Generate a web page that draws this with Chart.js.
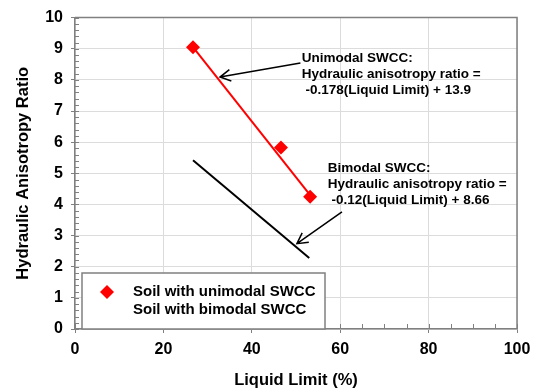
<!DOCTYPE html>
<html><head><meta charset="utf-8">
<script src="https://cdn.jsdelivr.net/npm/chart.js@4/dist/chart.umd.min.js"></script>
<style>html,body{margin:0;padding:0;background:#fff}</style>
</head><body>
<canvas id="c" width="538" height="391" style="width:538px;height:391px;display:block"></canvas>
<script>
// ---- data ----
const xTickStep = 20;
const yTickStep = 1;
const unimodalLL = [26.7, 46.6, 53.2];
const unimodalRatio = [9.05, 5.83, 4.25];
const unimodalFitLL = [26.7, 53.2];
const unimodalFitRatio = [9.05, 4.3];
const bimodalFitLL = [26.7, 53.0];
const bimodalFitRatio = [5.42, 2.28];
const legendLabels = ["Soil with unimodal SWCC", "Soil with bimodal SWCC"];
const unimodalNote = ["Unimodal SWCC:", "Hydraulic anisotropy ratio =", " -0.178(Liquid Limit) + 13.9"];
const bimodalNote = ["Bimodal SWCC:", "Hydraulic anisotropy ratio =", " -0.12(Liquid Limit) + 8.66"];
// arrow anchor points (data coordinates)
const unimodalArrow = {from: [51.0, 8.54], to: [32.8, 8.09]};
const bimodalArrow = {from: [60.4, 3.76], to: [50.2, 2.74]};
const unimodalNoteAt = [51.3, 8.7];
const bimodalNoteAt = [57.2, 5.15];

const pts = (xs, ys) => xs.map((x, i) => ({x, y: ys[i]}));
const FONT = 'Arial, "Liberation Sans", sans-serif';
const GRAY = '#808080';

const extras = {
  id: 'extras',
  afterDraw(chart) {
    const {ctx, chartArea: a, scales: {x, y}} = chart;
    ctx.save();
    // top & right border
    ctx.strokeStyle = GRAY; ctx.lineWidth = 1.5;
    ctx.beginPath();
    ctx.moveTo(a.left, a.top); ctx.lineTo(a.right, a.top); ctx.lineTo(a.right, a.bottom);
    ctx.stroke();
    // minor ticks
    ctx.lineWidth = 1;
    ctx.beginPath();
    for (let v = 0; v <= 10.001; v += 0.2) {
      const py = Math.round(y.getPixelForValue(v)) + 0.5;
      ctx.moveTo(a.left, py); ctx.lineTo(a.left + 4, py);
    }
    for (let v = 0; v <= 100.001; v += 5) {
      const px = Math.round(x.getPixelForValue(v)) + 0.5;
      ctx.moveTo(px, a.bottom); ctx.lineTo(px, a.bottom - 5);
    }
    ctx.stroke();

    // annotations
    ctx.fillStyle = '#000'; ctx.strokeStyle = '#000';
    ctx.font = 'bold 13.5px ' + FONT;
    ctx.textBaseline = 'middle'; ctx.textAlign = 'left';
    const drawNote = (lines, at) => {
      const px = x.getPixelForValue(at[0]), py = y.getPixelForValue(at[1]);
      lines.forEach((t, i) => ctx.fillText(t, px, py + i * 16));
    };
    drawNote(unimodalNote, unimodalNoteAt);
    drawNote(bimodalNote, bimodalNoteAt);
    const drawArrow = (ar) => {
      const x1 = x.getPixelForValue(ar.from[0]), y1 = y.getPixelForValue(ar.from[1]);
      const x2 = x.getPixelForValue(ar.to[0]), y2 = y.getPixelForValue(ar.to[1]);
      const ang = Math.atan2(y2 - y1, x2 - x1);
      ctx.lineWidth = 1.5;
      ctx.beginPath();
      ctx.moveTo(x1, y1); ctx.lineTo(x2, y2);
      const L = 12, w = 0.5;
      ctx.moveTo(x2 - L * Math.cos(ang - w), y2 - L * Math.sin(ang - w));
      ctx.lineTo(x2, y2);
      ctx.lineTo(x2 - L * Math.cos(ang + w), y2 - L * Math.sin(ang + w));
      ctx.stroke();
    };
    drawArrow(unimodalArrow);
    drawArrow(bimodalArrow);

    // legend box
    const bx = a.left + 7, by = a.bottom - 56, bw = 243, bh = 56;
    ctx.fillStyle = '#fff';
    ctx.fillRect(bx, by, bw, bh);
    ctx.strokeStyle = GRAY; ctx.lineWidth = 1.5;
    ctx.strokeRect(bx, by, bw, bh);
    // marker
    const mx = bx + 25, my = by + 19, r = 7;
    ctx.fillStyle = '#ff0000';
    ctx.beginPath();
    ctx.moveTo(mx, my - r); ctx.lineTo(mx + r, my); ctx.lineTo(mx, my + r); ctx.lineTo(mx - r, my);
    ctx.closePath(); ctx.fill();
    ctx.fillStyle = '#000';
    ctx.font = 'bold 15px ' + FONT;
    legendLabels.forEach((t, i) => ctx.fillText(t, bx + 51, my + i * 18));
    ctx.restore();
  }
};

new Chart(document.getElementById('c'), {
  type: 'scatter',
  data: {
    datasets: [
      {label: 'uni fit', data: pts(unimodalFitLL, unimodalFitRatio), showLine: true,
       borderColor: '#ff0000', borderWidth: 2, pointRadius: 0, order: 2},
      {label: 'bi fit', data: pts(bimodalFitLL, bimodalFitRatio), showLine: true,
       borderColor: '#000', borderWidth: 2, pointRadius: 0, order: 2},
      {label: legendLabels[0], data: pts(unimodalLL, unimodalRatio), showLine: false,
       pointStyle: 'rectRot', pointRadius: 7, backgroundColor: '#ff0000', borderColor: '#ff0000',
       borderWidth: 0, order: 1}
    ]
  },
  options: {
    responsive: false, animation: false, devicePixelRatio: 1,
    layout: {padding: {top: 15, right: 21, left: 0, bottom: 0}},
    plugins: {legend: {display: false}, tooltip: {enabled: false}},
    scales: {
      x: {
        type: 'linear', min: 0, max: 100,
        ticks: {stepSize: xTickStep, color: '#000', font: {family: FONT, size: 16, weight: 'bold'}, padding: 7, maxRotation: 0},
        grid: {color: '#dcdcdc', tickColor: GRAY, tickLength: 4, lineWidth: 1},
        border: {color: GRAY, width: 1.5},
        title: {display: true, text: 'Liquid Limit (%)', color: '#000', font: {family: FONT, size: 16.5, weight: 'bold'}, padding: {top: 0, bottom: 1}},
        afterFit: s => { s.height = 62; }
      },
      y: {
        type: 'linear', min: 0, max: 10,
        ticks: {stepSize: yTickStep, color: '#000', font: {family: FONT, size: 16, weight: 'bold'}, padding: 8},
        grid: {color: '#dcdcdc', tickColor: GRAY, tickLength: 4, lineWidth: 1},
        border: {color: GRAY, width: 1.5},
        title: {display: true, text: 'Hydraulic Anisotropy Ratio', color: '#000', font: {family: FONT, size: 16.5, weight: 'bold'}, padding: {top: 14, bottom: 0}},
        afterFit: s => { s.width = 75; }
      }
    }
  },
  plugins: [extras]
});
</script>
</body></html>
